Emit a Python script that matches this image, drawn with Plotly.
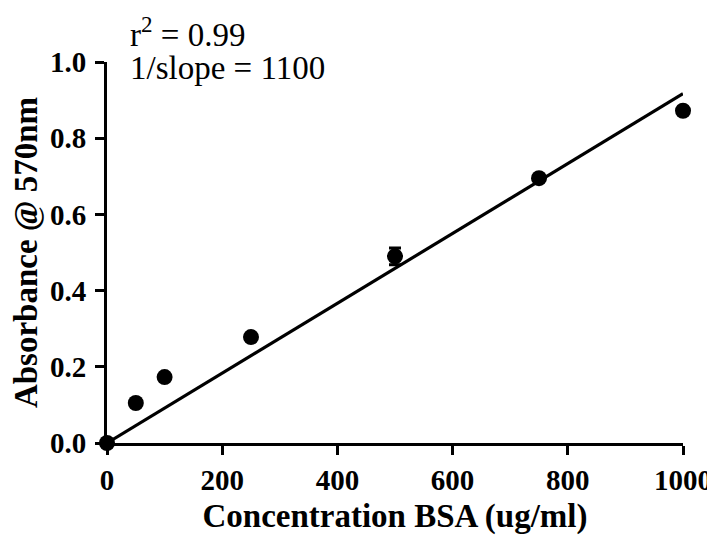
import numpy as np
import plotly.graph_objects as go

conc = [0, 50, 100, 250, 500, 750, 1000]
absorb = [0.0, 0.105, 0.173, 0.278, 0.490, 0.695, 0.872]
err = [0.0, 0.004, 0.005, 0.005, 0.022, 0.006, 0.006]
x_ticks = [0, 200, 400, 600, 800, 1000]
y_ticks = [0.0, 0.2, 0.4, 0.6, 0.8, 1.0]
y_tick_labels = ["0.0", "0.2", "0.4", "0.6", "0.8", "1.0"]

x = np.array(conc, dtype=float)
y = np.array(absorb, dtype=float)
slope = float((x * y).sum() / (x * x).sum())
fit_x = [0, 1000]
fit_y = [0, slope * 1000]

FONT = "Liberation Serif, Times New Roman, serif"

fig = go.Figure()
fig.add_trace(go.Scatter(x=fit_x, y=fit_y, mode="lines",
                         line=dict(color="black", width=3.2),
                         cliponaxis=False, showlegend=False, hoverinfo="skip"))
fig.add_trace(go.Scatter(x=conc, y=absorb, mode="markers",
                         marker=dict(color="black", size=16),
                         error_y=dict(type="data", array=err, color="black",
                                      thickness=3, width=6),
                         cliponaxis=False, showlegend=False))

fig.add_annotation(xref="paper", yref="paper", x=0.036, y=1.078,
                   xanchor="left", yanchor="middle", showarrow=False,
                   text="r<sup>2</sup> = 0.99",
                   font=dict(family=FONT, size=33, color="black"))
fig.add_annotation(xref="paper", yref="paper", x=0.036, y=0.985,
                   xanchor="left", yanchor="middle", showarrow=False,
                   text="1/slope = 1100",
                   font=dict(family=FONT, size=33, color="black"))

axis_common = dict(showline=True, linecolor="black", linewidth=3,
                   ticks="outside", ticklen=9, tickwidth=3, tickcolor="black",
                   showgrid=False, zeroline=False, mirror=False,
                   automargin=False,
                   tickfont=dict(family=FONT, size=29, color="black"))

fig.update_xaxes(range=[0, 1000], tickvals=x_ticks,
                 ticktext=[f"<b>{v}</b>" for v in x_ticks],
                 title=dict(text="<b>Concentration BSA (ug/ml)</b>",
                            font=dict(family=FONT, size=33, color="black"),
                            standoff=10),
                 **axis_common)
fig.update_yaxes(range=[0, 1.0], tickvals=y_ticks,
                 ticktext=[f"<b>{v}</b>" for v in y_tick_labels],
                 ticklabelstandoff=3,
                 title=dict(text="<b>Absorbance @ 570nm</b>",
                            font=dict(family=FONT, size=33, color="black"),
                            standoff=13),
                 **axis_common)

# page body has an 8px default margin, so the figure is sized and offset for it
fig.update_layout(width=707, height=527,
                  margin=dict(l=99, r=32, t=54, b=92, pad=0),
                  plot_bgcolor="white", paper_bgcolor="white",
                  font=dict(family=FONT, color="black"))

fig.write_html("out.html")
